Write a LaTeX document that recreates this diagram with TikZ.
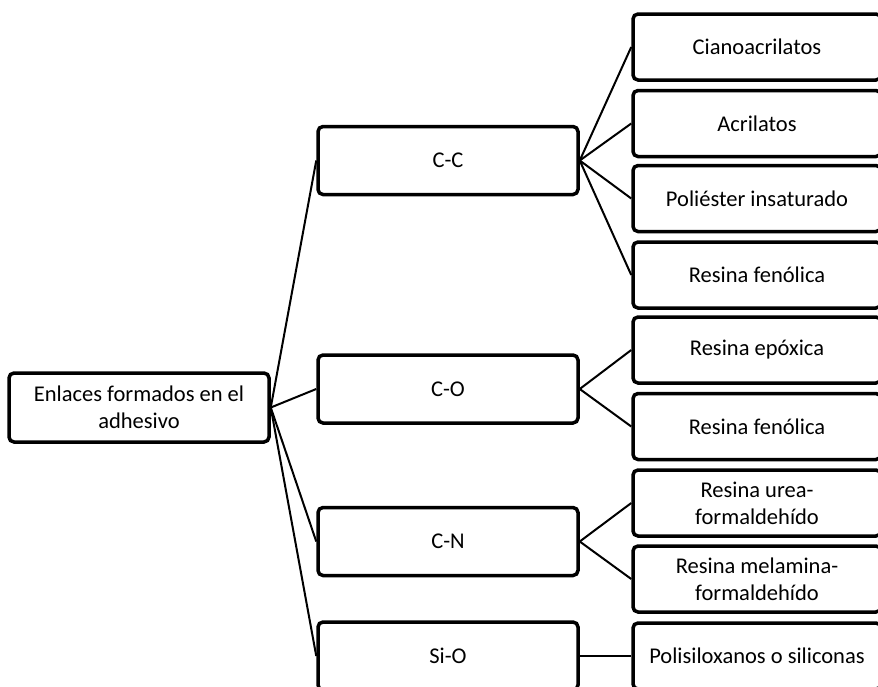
\documentclass[tikz,border=0pt]{standalone}
\usepackage{fontspec}
\setmainfont{Carlito}
\begin{document}
\begin{tikzpicture}[x=1pt,y=-1pt,
  box/.style={draw=black,line width=3.5pt,rounded corners=5pt,fill=white,inner sep=2pt,
    font=\fontsize{22.5}{27}\selectfont,align=center,text=black},
  mid/.style={box,minimum width=260pt,minimum height=68pt},
  leaf/.style={box,minimum width=248pt,minimum height=66pt},
  conn/.style={draw=black,line width=2pt}]
\useasboundingbox (0,0) rectangle (878,686);
\clip (0,0) rectangle (878,686);
\node[mid,minimum height=69pt] (root) at (139,407.5) {Enlaces formados en el\\adhesivo};
\node[mid] (cc) at (448,160.5) {C-C};
\node[mid] (co) at (448,389) {C-O};
\node[mid] (cn) at (448,541.5) {C-N};
\node[mid] (sio) at (448,656) {Si-O};
\node[leaf] (l1) at (757,47) {Cianoacrilatos};
\node[leaf] (l2) at (757,123.5) {Acrilatos};
\node[leaf] (l3) at (757,198.5) {Poliéster insaturado};
\node[leaf] (l4) at (757,275) {Resina fenólica};
\node[leaf] (l5) at (757,350) {Resina epóxica};
\node[leaf] (l6) at (757,426.5) {Resina fenólica};
\node[leaf] (l7) at (757,503) {Resina urea-\\formaldehído};
\node[leaf] (l8) at (757,579) {Resina melamina-\\formaldehído};
\node[leaf] (l9) at (757,656) {Polisiloxanos o siliconas};
\foreach \m in {cc,co,cn,sio} \draw[conn] (root.east) -- (\m.west);
\foreach \l in {l1,l2,l3,l4} \draw[conn] (cc.east) -- (\l.west);
\foreach \l in {l5,l6} \draw[conn] (co.east) -- (\l.west);
\foreach \l in {l7,l8} \draw[conn] (cn.east) -- (\l.west);
\draw[conn] (sio.east) -- (l9.west);
\end{tikzpicture}
\end{document}
